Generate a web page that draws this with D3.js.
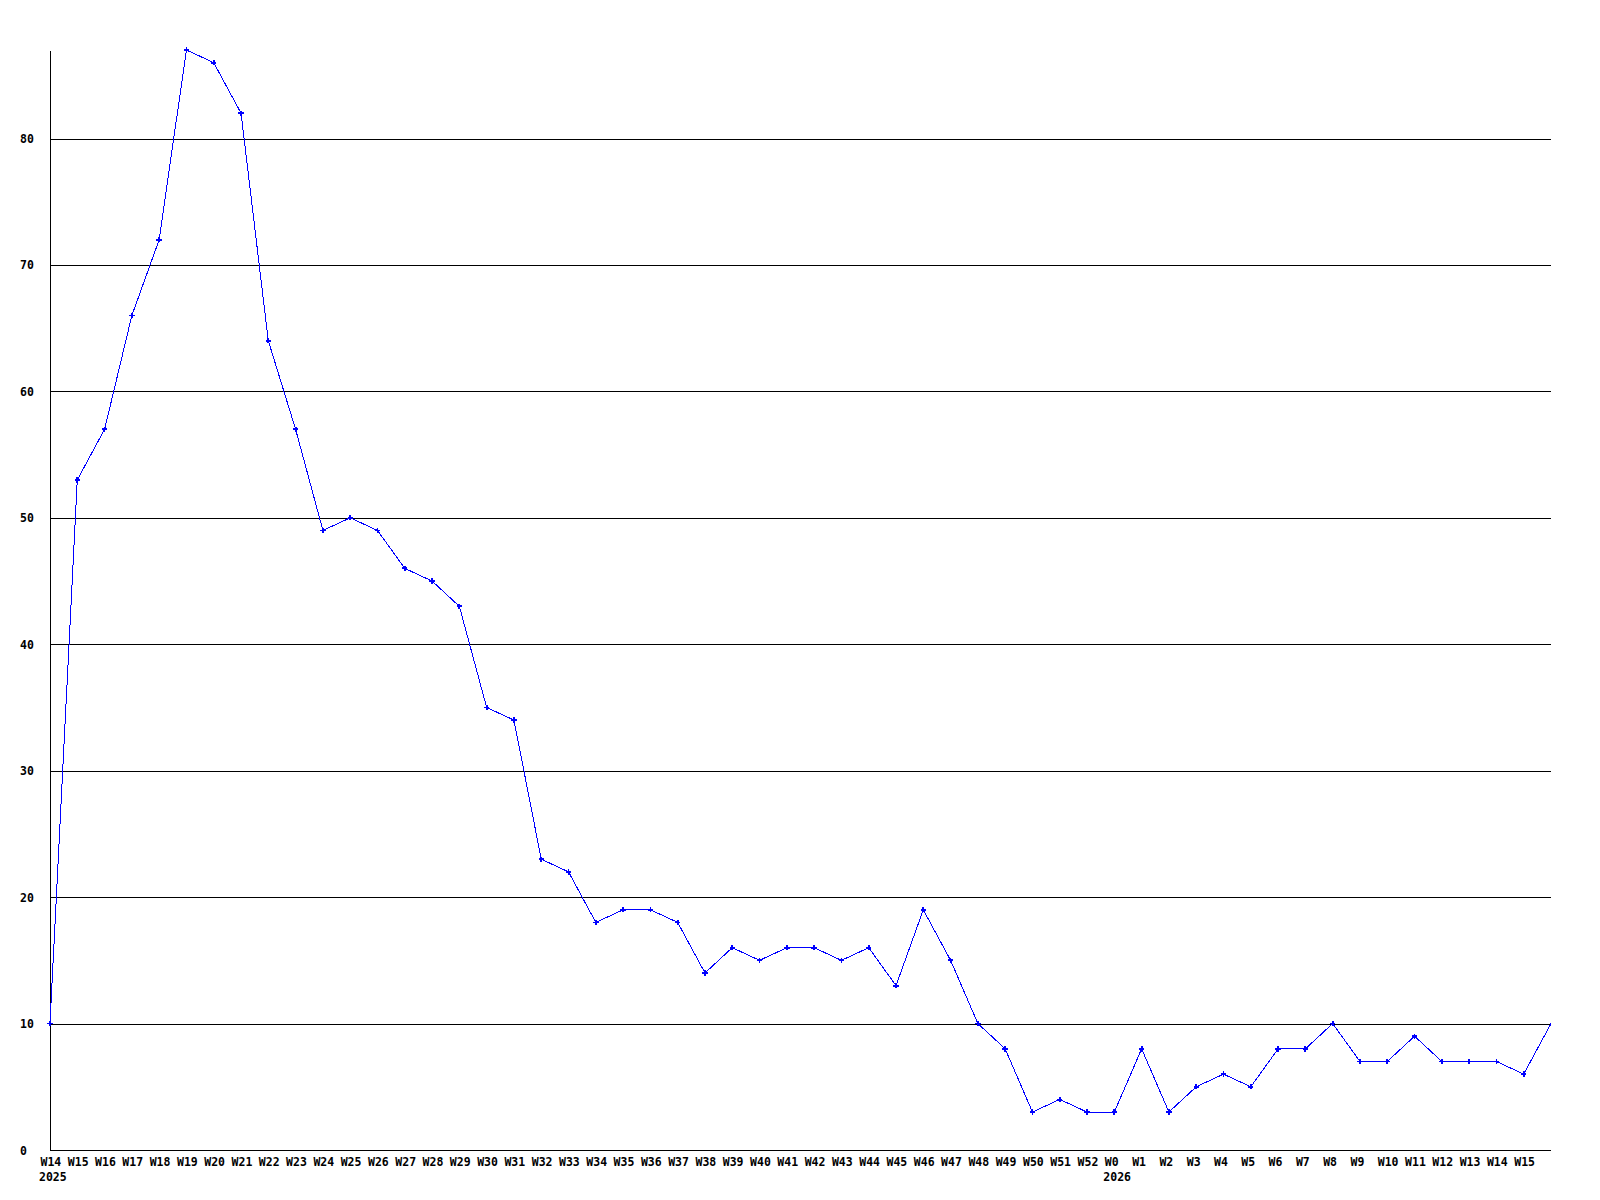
<!DOCTYPE html>
<html>
<head>
<meta charset="utf-8">
<script src="https://cdn.jsdelivr.net/npm/d3@7"></script>
<style>
	body { margin: 0; background: #fff; }
	svg text { font-family: "DejaVu Sans Mono", "Liberation Mono", monospace; font-weight: bold; font-size: 11.5px; fill: #000; }
</style>
</head>
<body>
<div id="chart"></div>
<script>
// weekly counts, W14 2025 .. W15 2026 plus one trailing unlabelled week
var weekLabels = ["W14","W15","W16","W17","W18","W19","W20","W21","W22","W23","W24","W25","W26","W27","W28","W29","W30","W31","W32","W33","W34","W35","W36","W37","W38","W39","W40","W41","W42","W43","W44","W45","W46","W47","W48","W49","W50","W51","W52",
	"W0","W1","W2","W3","W4","W5","W6","W7","W8","W9","W10","W11","W12","W13","W14","W15",""];
var counts = [10,53,57,66,72,87,86,82,64,57,49,50,49,46,45,43,35,34,23,22,18,19,19,18,14,16,15,16,16,15,16,13,19,15,10,8,3,4,3,
	3,8,3,5,6,5,8,8,10,7,7,9,7,7,7,6,10];
var yearLabels = [{index: 0, label: "2025"}, {index: 39, label: "2026"}];
var yTicks = [0,10,20,30,40,50,60,70,80];

var W = 1600, H = 1200,
	LEFT = 50, RIGHT = 1551, TOP = 50, BOTTOM = 1150;

var svg = d3.select("#chart").append("svg")
	.attr("width", W)
	.attr("height", H);

var x = d3.scaleLinear().domain([0, counts.length - 1]).range([LEFT, RIGHT]);
var y = d3.scaleLinear().domain([0, d3.max(counts)]).range([BOTTOM, TOP]);

// grid + y labels
var yAxis = d3.axisLeft(y)
	.tickValues(yTicks)
	.tickSize(-(RIGHT - LEFT))
	.tickSizeOuter(0)
	.tickFormat(d3.format("d"));
var gy = svg.append("g")
	.attr("transform", "translate(" + LEFT + ",0)")
	.call(yAxis);
gy.selectAll("line").attr("stroke", "#000").attr("shape-rendering", "crispEdges");
gy.select(".domain").attr("stroke", "#000").attr("shape-rendering", "crispEdges");
gy.selectAll("text")
	.attr("x", -30)
	.attr("dy", "0.35em")
	.style("text-anchor", "start");

// week labels
var xAxis = d3.axisBottom(x)
	.tickValues(d3.range(weekLabels.length - 1))
	.tickSize(0)
	.tickFormat(function(i) { return weekLabels[i]; });
var gx = svg.append("g")
	.attr("transform", "translate(0," + BOTTOM + ")")
	.call(xAxis);
gx.select(".domain").remove();
gx.selectAll("text")
	.attr("x", -10)
	.attr("y", 16)
	.attr("dy", 0)
	.style("text-anchor", "start");

svg.append("g").selectAll("text")
	.data(yearLabels)
	.enter().append("text")
	.attr("x", function(d) { return x(d.index) - 11; })
	.attr("y", BOTTOM + 31)
	.text(function(d) { return d.label; });

// series
svg.append("clipPath").attr("id", "plot-clip")
	.append("rect")
	.attr("x", 0).attr("y", 0)
	.attr("width", RIGHT + 1).attr("height", H);

var plot = svg.append("g").attr("clip-path", "url(#plot-clip)");
var line = d3.line()
	.x(function(d, i) { return x(i); })
	.y(function(d) { return y(d); });
plot.append("path")
	.datum(counts)
	.attr("fill", "none")
	.attr("stroke", "#0000ff")
	.attr("stroke-width", 1)
	.attr("shape-rendering", "crispEdges")
	.attr("d", line);
plot.selectAll(".pt")
	.data(counts.slice(0, counts.length - 1))
	.enter().append("path")
	.attr("class", "pt")
	.attr("transform", function(d, i) { return "translate(" + x(i) + "," + y(d) + ")"; })
	.attr("d", d3.symbol(d3.symbolCross).size(16))
	.attr("shape-rendering", "crispEdges")
	.attr("fill", "#0000ff");
</script>
</body>
</html>
